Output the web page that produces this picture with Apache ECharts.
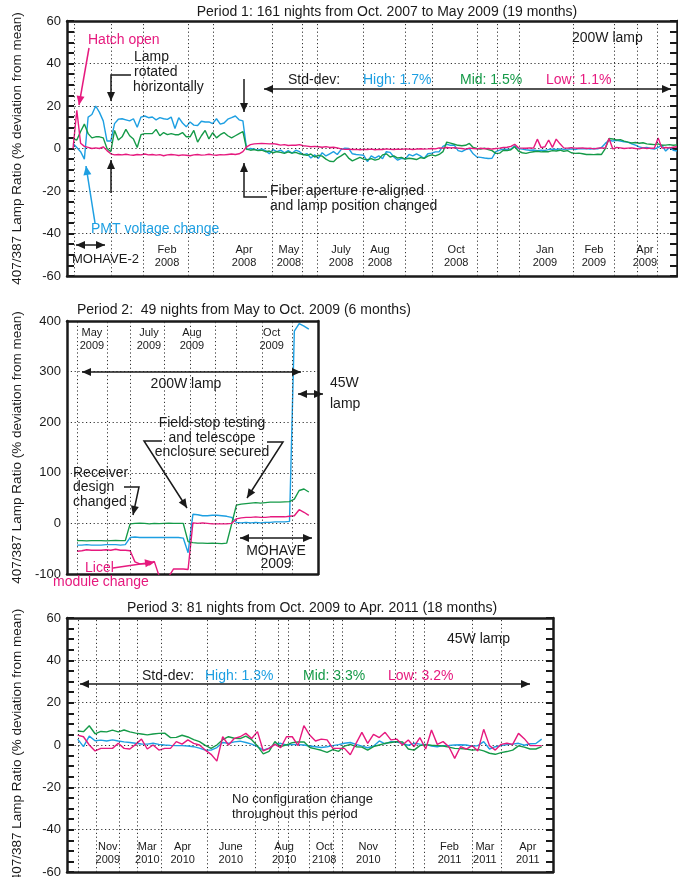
<!DOCTYPE html>
<html>
<head>
<meta charset="utf-8">
<script src="https://cdn.jsdelivr.net/npm/echarts@6/dist/echarts.min.js"></script>
<style>
  html, body { margin: 0; padding: 0; background: #fff; }
  #chart { width: 678px; height: 877px; }
</style>
</head>
<body>
<div id="chart"></div>
<script>
// ---------- Period 1: 161 nights, Oct 2007 - May 2009 (% deviation from mean) ----------
const p1High = [
  2.3, 0.5, -1.5, -5, 14.8, 16, 20, 17, 13, 3.5,
  3.5, 11.7, 13.8, 14, 13.5, 13, 14, 10, 14.8, 15.3,
  14.5, 14.8, 13.5, 14.5, 14, 13.7, 14.8, 9.4, 14.5, 12,
  10.2, 12.5, 11, 10.8, 12.8, 12.5, 12.5, 11.7, 14, 11.5,
  12, 13.8, 14.5, 15.3, 13.5, 13, -0.5, 0, -0.3, -0.8,
  -0.2, -1, -2.5, -0.5, -1.5, -0.8, -2, -1, -2.2, -0.8,
  -1.5, -3, -2.4, -4.5, -3, -4.7, -2, -3.5, -2.5, -1.5,
  -2.8, -0.5, 0.2, 0, -2.5, -2.8, -3, -3.2, -6.2, -3.5,
  -4.5, -3.5, -4.8, -1.5, -1.8, -4, -5.5, -4.6, -5, -2.8,
  -3.5, -2.5, -3.5, -4.7, -2.5, -2.2, -1.6, -1.5, 1, 2,
  1.5, 1.6, -1, -1.5, -0.5, 0, -2.5, -4, -4.2, -4.5,
  -4.7, -4.6, -1.5, -0.8, -0.3, -0.4, -0.2, 1.3, 0, -0.3,
  -0.6, -0.8, -0.7, -1, -0.8, -0.9, -0.5, -0.3, -0.5, -0.2,
  -0.4, -0.3, -0.2, -0.5, 0, -0.2, 0, -0.3, 0, -0.2,
  0.5, 2.4, 3.9, 3.5, 3.8, 3.5, 3.2, 3, 2.2, 1.6,
  0.8, 0.3, 0.5, 0, -0.3, 0.5, 1.6, -1.2, 0.5, -0.8, -1.2
];
const p1Mid = [
  4.5, 4, 8, 11.5, 7, 5, 5.5, 5.5, 5, 0,
  -1.5, 8.5, 4, 5.5, 9, 6, 4.5, 0.5, 6.5, 7,
  7, 7, 9, 6, 7.5, 6.5, 7, 6.5, 6.5, 7.5,
  5.5, 5.5, 8.5, 3, 6, 8.5, 4.5, 7.5, 5, 6.5,
  7.5, 6, 5, 6, 7, 8, -0.3, -0.8, -0.5, -1,
  -0.8, -1.5, -1.2, -2, -1.5, -1.8, -2.3, -1.6, -2.2, -1.8,
  -2.5, -2.8, -3.2, -2.6, -4, -3.2, -3.6, -5, -6, -6.2,
  -4.5, -3.5, -2.3, -4.5, -5.8, -5, -4.2, -5, -5.3, -4.8,
  -5.5, -5, -3, -2.5, -4, -3.5, -4.5, -4.2, -5, -4.6,
  -4.8, -5.2, -4.3, -4.6, -3.6, -3, -3.5, -2.8, -1.5, 3,
  2.5, 2, 1.5, 1.3, 1.5, 2.4, 0.5, 0, -0.3, 0.2,
  -0.5, -1, -2.3, -2.2, -0.8, -1, -0.6, 0.8, -1.2, -2,
  -2.3, -1.8, -1.5, -1.3, -1.6, -1.4, -1.5, -1, -1.2, -0.8,
  -1.3, -1, -2, -2.3, -2.2, -2.5, -2.8, -2.8, -2.9, -2.7,
  -2.8, 0, 4.7, 4.5, 4, 4.2, 3.5, 3, 2.6, 2.8,
  2.5, 2.7, 2.2, 2, 1.8, 2.2, 1.5, 1.6, 1.8, 1.5, 1.7
];
const p1Low = [
  0, 18, 2.5, 1, 0.5, 0, 0.3, 0, 0.8, -1,
  -2.5, -3, -2.8, -3, -2.7, -3, -3.2, -2.8, -3, -2.6,
  -3, -2.8, -3.1, -2.9, -3.4, -3, -2.8, -3, -3.3, -3,
  -3.2, -3.4, -3, -2.8, -3.1, -3, -2.7, -3, -3.2, -2.9,
  -3, -2.8, -2.6, -2.8, -2.5, -1.5, 0.8, 1.8, 2.2, 2.3,
  2.4, 2.3, 2.2, 2.3, 2, 1.6, 1.8, 1.4, 1.6, 1.5,
  1.8, 1.3, 1.1, 0.8, 1, 0.8, 0.6, 0.9, 0.5, 0.6,
  0.3, -0.2, -0.4, -0.3, -0.5, -0.4, -0.6, -0.4, -0.5, -0.3,
  -0.6, -0.4, -0.5, -0.2, -0.4, -0.5, -0.3, -0.4, -0.2, -0.3,
  -0.5, -0.3, -0.1, -0.3, -0.2, 0, -0.2, 0.3, 0.2, 0.5,
  0.3, 0.4, 0.2, 0, -0.3, 0.2, 0, -0.2, 0.1, -0.1,
  0, -0.3, 0, 0.2, 0.5, 0.6, 1, 2, 0.3, 0.2,
  0.1, 0.3, 0.2, 4.4, 0.4, 0.8, 4, 0.5, 4.4, 2.2,
  0.3, 0.2, 0.4, 0.2, 0.1, 0.3, 0, 0.2, -0.2, 0.2,
  0.3, 0.2, 4.7, -0.2, 0.5, 0.3, 0, 0.2, 0.3, 0,
  -0.2, 0.3, 0, 0.2, 0.1, 5, 0.2, 0.5, 0.3, 0.6, 0.8
];
// night index where each dotted month divider sits, and the month tick labels
const p1Dividers = [0.3, 10.1, 18.5, 30.5, 37.1, 52.7, 60.7, 64.6, 76.8, 87.9, 95.1, 107, 112.3, 118.1, 132.5, 143.3, 149.4, 154.7];
const p1MonthNights = [24.9, 45.3, 57.2, 71, 81.3, 101.5, 125, 138, 151.5];
const p1MonthLabels = ['Feb\n2008', 'Apr\n2008', 'May\n2008', 'July\n2008', 'Aug\n2008', 'Oct\n2008', 'Jan\n2009', 'Feb\n2009', 'Apr\n2009'];

// ---------- Period 2: 49 nights, May - Oct 2009 ----------
const p2High = [
  -43, -43, -42, -43, -43, -43, -42, -42, -42, -43,
  -42, -28, -27, -28, -28, -28, -28, -28, -28, -28,
  -28, -28, -29, -58, 18, 17, 15, 15, 16, 16,
  15, 14, 12, 2, 1, 2, 1, 2, 1, 2,
  2, 3, 3, 3, 4, 380, 395, 390, 384
];
const p2Mid = [
  -34, -34, -34.5, -34, -34, -34, -34.5, -34, -33.5, -34,
  -34, -1, 0, 0.5, 0, -1, 0, -0.5, 0, 0.5,
  0, 0, 0, -36, -38, -39, -39, -39.5, -39, -39.5,
  -40, -39, -2, 36, 38, 39, 40, 41, 40, 41,
  42, 42, 42, 42.5, 43, 48, 65, 68, 62
];
const p2Low = [
  -55, -54, -52, -53, -53, -53, -52, -53, -51, -53,
  -53, -54, -76, -80, -80, -82, -75, -104, -105, -105,
  -90, -90, -90, -91, 1, 0, 1, 0, -1, -1,
  -1, -1, 0, 9, 11, 12, 12, 13, 12, 12,
  13, 13, 13, 13, 14, 15, 27, 22, 16
];
const p2Dividers = [0, 6.2, 11, 18, 23.4, 28.6, 32.9, 38.3, 44.5];
const p2MonthNights = [3.1, 14.9, 23.8, 40.3];
const p2MonthLabels = ['May\n2009', 'July\n2009', 'Aug\n2009', 'Oct\n2009'];

// ---------- Period 3: 81 nights, Oct 2009 - Apr 2011 ----------
const p3High = [
  2.8, -0.8, 4.2, 2, 2.3, 1.9, 2.4, 1.9, 1.5, 1.2,
  0.8, 0.5, 0.4, 0.8, 0.3, 0, -0.2, -0.3, -0.3, -0.5,
  -0.8, -1.5, -2.4, -2.4, -1.2, 1.2, 0.8, 1.5, 1.8, 1.2,
  0.4, -0.8, -2.4, -1.5, 0.3, 0.8, 0, 0.3, 0.2, 0,
  -0.5, -0.8, -1.2, -0.8, -0.3, 0.2, 0.8, 1.2, 0.3, -0.5,
  -1.3, -0.6, 1.9, 0.5, 1.6, 1.4, 0.8, -0.1, 0.8, 0.4,
  0.3, -0.5, -0.8, -0.3, -0.2, 0, 0.1, 0, -0.6, -0.3,
  1.6, -1.9, -0.8, -0.3, 0.2, 0.4, 0.8, -0.1, 0.6, 0.7, 2.8
];
const p3Mid = [
  6.6, 6.3, 9.1, 5.3, 6.4, 6.2, 7, 6.2, 7.1, 6.2,
  5.6, 5.2, 4.8, 5.2, 5.5, 5.6, 3.5, 3.6, 4.6, 3.8,
  2.5, 1.6, -0.2, -1.6, 0, 2.5, 3.9, 3.2, 3, 4.2,
  2.5, -0.5, -4.2, -3, 1.6, -0.8, 0.1, 1.1, 1.4, 1.5,
  -1.2, -1.8, -2.5, -3.5, -2.2, -3, -0.5, 0.3, -0.8, -1,
  -2.4, -0.8, 0, 0.8, 1.2, 1.6, 1.5, -1.9, -2.4, -0.3,
  0.2, -0.1, -0.3, -0.5, -1, -1.6, -1.7, -1.9, -2.4, -2.1,
  -2.8, -3.9, -4.4, -3.6, -3.1, -2.4, -0.4, -1, -1.9, -1.9, -0.8
];
const p3Low = [
  4.7, 3.9, 0, -2.8, -1.6, -1.6, -1.6, 0.8, -1.6, -1.9,
  0.3, 2.8, -1.9, 0, -2.4, -1.6, -1.6, 1.6, 0.4, 2.4,
  0.8, 0, -2.4, -4.4, -7.6, 3.9, 0, 3.1, 3.9, 5.5,
  3.1, 6.3, -2.8, -1.6, 0.3, -1.3, 3.9, 3.9, -0.3, 9.1,
  4.7, 1.9, 2.8, 2.4, -1.6, -1.6, -1.6, -4.6, 0.8, 6,
  0.8, 5, 3.5, 6, 2.4, 2.8, 0, 2.4, -0.8, 3.5,
  -1.9, 7.1, 0.3, 1.6, -0.8, -6.3, -0.8, -1.9, -0.3, -2.8,
  7.4, -0.3, -2.4, 0.3, 0.8, 0.3, 5.5, 3, -0.3, -0.3, -0.3
];
const p3Dividers = [0.05, 3.2, 7.1, 10.2, 14.4, 22.3, 30.6, 34.5, 36.3, 39.9, 44, 45.7, 54.7, 57.8, 59.7, 68, 73];
const p3MonthNights = [5.2, 12, 18.1, 26.4, 35.6, 42.5, 50.1, 64.1, 70.2, 77.6];
const p3MonthLabels = ['Nov\n2009', 'Mar\n2010', 'Apr\n2010', 'June\n2010', 'Aug\n2010', 'Oct\n2108', 'Nov\n2010', 'Feb\n2011', 'Mar\n2011', 'Apr\n2011'];

// ---------- styling ----------
const FONT = '"Liberation Sans", Arial, Helvetica, sans-serif';
const INK = '#1a1a1a';
const HIGH = '#1d9fe2';
const MID = '#159a48';
const LOW = '#e6197e';
const DOTS = [1.2, 2.6];
const Y_NAME = '407/387 Lamp Ratio (% deviation from mean)';

const panels = [
  { grid: { left: 67, top: 21, width: 610, height: 255 }, xMin: -1.6, xMax: 160,
    yMin: -60, yMax: 60, yStep: 20, ticks: true, labelsOnTop: false, labelMargin: 7,
    high: p1High, mid: p1Mid, low: p1Low, dividers: p1Dividers,
    monthNights: p1MonthNights, monthLabels: p1MonthLabels },
  { grid: { left: 67, top: 321, width: 251, height: 253 }, xMin: -2.07, xMax: 49.9,
    yMin: -100, yMax: 400, yStep: 100, ticks: false, labelsOnTop: true, labelMargin: 5,
    high: p2High, mid: p2Mid, low: p2Low, dividers: p2Dividers,
    monthNights: p2MonthNights, monthLabels: p2MonthLabels },
  { grid: { left: 67, top: 618, width: 486, height: 254 }, xMin: -1.84, xMax: 81.95,
    yMin: -60, yMax: 60, yStep: 20, ticks: true, labelsOnTop: false, labelMargin: 6,
    high: p3High, mid: p3Mid, low: p3Low, dividers: p3Dividers,
    monthNights: p3MonthNights, monthLabels: p3MonthLabels }
];

const borderLine = { show: true, onZero: false, lineStyle: { color: INK, width: 2.5 } };

function xAxisFor(g, p, position, withLabels) {
  return {
    type: 'value', gridIndex: g, position, min: p.xMin, max: p.xMax,
    axisLine: borderLine, axisTick: { show: false }, splitLine: { show: false },
    axisLabel: withLabels ? {
      show: true, inside: true, customValues: p.monthNights, margin: p.labelMargin,
      formatter: v => { const k = p.monthNights.indexOf(v); return k < 0 ? '' : p.monthLabels[k]; },
      fontSize: 11, lineHeight: 13, color: INK, fontFamily: FONT, align: 'center'
    } : { show: false }
  };
}

function yAxisFor(g, p, position) {
  const left = position === 'left';
  return {
    type: 'value', gridIndex: g, position, min: p.yMin, max: p.yMax, interval: p.yStep,
    name: left ? Y_NAME : '', nameLocation: 'middle', nameGap: 43,
    nameTextStyle: { fontSize: 13.5, color: INK, fontFamily: FONT },
    axisLine: borderLine,
    axisTick: { show: p.ticks, inside: true, length: 7, lineStyle: { color: INK, width: 2 } },
    minorTick: { show: p.ticks, splitNumber: 4, length: 7, lineStyle: { color: INK, width: 2 } },
    axisLabel: { show: left, fontSize: 13, color: INK, margin: 6, fontFamily: FONT },
    splitLine: { show: left, lineStyle: { type: DOTS, color: '#333', width: 1 } }
  };
}

const grids = [], xAxes = [], yAxes = [], series = [];
panels.forEach((p, g) => {
  // fixed plot rectangles: the long axis title may run past the canvas edge
  grids.push(Object.assign({ containLabel: false, outerBoundsMode: 'none' }, p.grid));
  xAxes.push(xAxisFor(g, p, 'bottom', !p.labelsOnTop));
  xAxes.push(xAxisFor(g, p, 'top', p.labelsOnTop));
  yAxes.push(yAxisFor(g, p, 'left'));
  yAxes.push(yAxisFor(g, p, 'right'));
  const mk = (name, vals, color, extra) => Object.assign({
    type: 'line', name, xAxisIndex: 2 * g, yAxisIndex: 2 * g,
    data: vals.map((v, i) => [i, v]), symbol: 'none', showSymbol: false,
    lineStyle: { color, width: 1.4 }, itemStyle: { color }, animation: false, z: 3
  }, extra || {});
  series.push(mk('High', p.high, HIGH, {
    markLine: {
      silent: true, symbol: 'none', animation: false, label: { show: false },
      lineStyle: { type: DOTS, color: '#333', width: 1 },
      data: p.dividers.map(v => ({ xAxis: v }))
    }
  }));
  series.push(mk('Mid', p.mid, MID));
  series.push(mk('Low', p.low, LOW));
});

// ---------- annotations (pixel space) ----------
function txt(x, y, text, color, size, align) {
  return { type: 'text', x, y, z: 50, silent: true,
    style: { text, fill: color || INK, font: `${size || 14}px ${FONT}`, align: align || 'left', verticalAlign: 'middle' } };
}
function head(tip, from, color) {
  const dx = tip[0] - from[0], dy = tip[1] - from[1];
  const L = Math.hypot(dx, dy), ux = dx / L, uy = dy / L, len = 9, w = 4;
  const bx = tip[0] - ux * len, by = tip[1] - uy * len;
  return { type: 'polygon', z: 50, silent: true,
    shape: { points: [tip, [bx - uy * w, by + ux * w], [bx + uy * w, by - ux * w]] },
    style: { fill: color } };
}
function arrow(pts, color, both) {
  const c = color || INK;
  const out = [{ type: 'polyline', z: 50, silent: true, shape: { points: pts }, style: { stroke: c, lineWidth: 1.5, fill: null } }];
  out.push(head(pts[pts.length - 1], pts[pts.length - 2], c));
  if (both) out.push(head(pts[0], pts[1], c));
  return out;
}

const notes = [
  // Period 1
  txt(387, 12, 'Period 1: 161 nights from Oct. 2007 to May 2009 (19 months)', INK, 14, 'center'),
  txt(572, 38, '200W lamp'),
  txt(88, 40, 'Hatch open', LOW),
  ...arrow([[89, 48], [79, 105]], LOW),
  txt(134, 57, 'Lamp'), txt(134, 72, 'rotated'), txt(133, 87, 'horizontally'),
  ...arrow([[131, 75], [111, 75], [111, 101]]),
  ...arrow([[111, 193], [111, 160]]),
  ...arrow([[244, 79], [244, 112]]),
  ...arrow([[267, 197], [244, 197], [244, 163]]),
  txt(270, 191, 'Fiber aperture re-aligned'),
  txt(270, 206, 'and lamp position changed'),
  txt(91, 229, 'PMT voltage change', HIGH),
  ...arrow([[95, 223], [86, 166]], HIGH),
  ...arrow([[76, 245], [105, 245]], INK, true),
  txt(72, 259, 'MOHAVE-2', INK, 13),
  ...arrow([[264, 89], [671, 89]], INK, true),
  txt(288, 80, 'Std-dev:'),
  txt(363, 80, 'High: 1.7%', HIGH),
  txt(460, 80, 'Mid: 1.5%', MID),
  txt(546, 80, 'Low: 1.1%', LOW),

  // Period 2
  txt(77, 310, 'Period 2:  49 nights from May to Oct. 2009 (6 months)'),
  ...arrow([[82, 372], [301, 372]], INK, true),
  txt(186, 384, '200W lamp', INK, 14, 'center'),
  ...arrow([[298, 394], [323, 394]], INK, true),
  txt(330, 383, '45W'), txt(330, 404, 'lamp'),
  txt(212, 423, 'Field-stop testing', INK, 14, 'center'),
  txt(212, 438, 'and telescope', INK, 14, 'center'),
  txt(212, 452, 'enclosure secured', INK, 14, 'center'),
  ...arrow([[162, 441], [144, 441], [187, 508]]),
  ...arrow([[267, 442], [283, 442], [247, 498]]),
  txt(73, 473, 'Receiver'), txt(73, 487, 'design'), txt(73, 502, 'changed'),
  ...arrow([[124, 487], [139, 487], [133, 515]]),
  ...arrow([[240, 538], [312, 538]], INK, true),
  txt(276, 551, 'MOHAVE', INK, 14, 'center'),
  txt(276, 564, '2009', INK, 14, 'center'),
  txt(85, 568, 'Licel', LOW),
  ...arrow([[113, 568], [154, 562]], LOW),
  txt(53, 582, 'module change', LOW),

  // Period 3
  txt(312, 608, 'Period 3: 81 nights from Oct. 2009 to Apr. 2011 (18 months)', INK, 14, 'center'),
  txt(447, 639, '45W lamp'),
  ...arrow([[80, 684], [530, 684]], INK, true),
  txt(142, 676, 'Std-dev:'),
  txt(205, 676, 'High: 1.3%', HIGH),
  txt(303, 676, 'Mid: 3.3%', MID),
  txt(388, 676, 'Low: 3.2%', LOW),
  txt(232, 799, 'No configuration change', INK, 13),
  txt(232, 814, 'throughout this period', INK, 13)
];

const chart = echarts.init(document.getElementById('chart'), null, { renderer: 'canvas' });
chart.setOption({
  backgroundColor: '#fff',
  animation: false,
  grid: grids,
  xAxis: xAxes,
  yAxis: yAxes,
  series,
  graphic: { elements: notes }
});
</script>
</body>
</html>
